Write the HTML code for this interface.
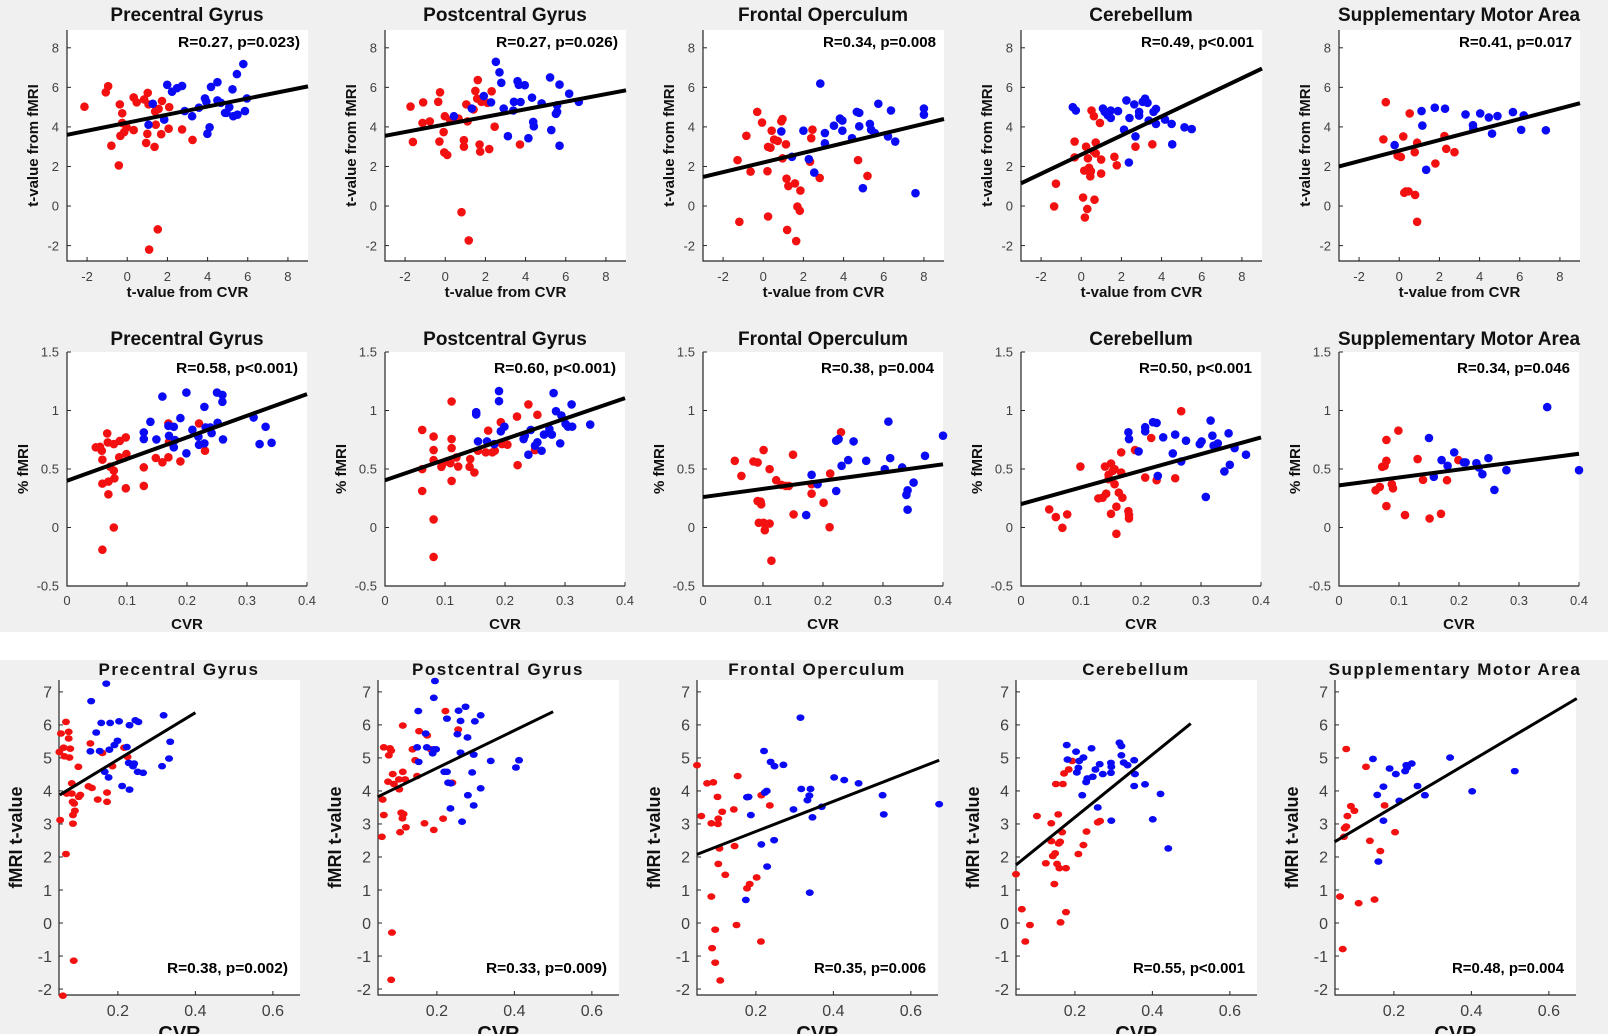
<!DOCTYPE html>
<html><head><meta charset="utf-8"><style>
html,body{margin:0;padding:0;background:#fff}
svg{display:block}
text{font-family:"Liberation Sans",sans-serif}
</style></head><body>
<svg id="fig" xmlns="http://www.w3.org/2000/svg" width="1608" height="1034" viewBox="0 0 1608 1034">
<rect x="0" y="0" width="1608" height="632" fill="#f0f0f0"/>
<rect x="0" y="632" width="1608" height="28" fill="#ffffff"/>
<rect x="0" y="660" width="1608" height="374" fill="#f0f0f0"/>
</svg>
<script>
// ---------- DATA ----------
const titles = ["Precentral Gyrus","Postcentral Gyrus","Frontal Operculum","Cerebellum","Supplementary Motor Area"];
const r1Stats = ["R=0.27, p=0.023)","R=0.27, p=0.026)","R=0.34, p=0.008","R=0.49, p<0.001","R=0.41, p=0.017"];
const r2Stats = ["R=0.58, p<0.001)","R=0.60, p<0.001)","R=0.38, p=0.004","R=0.50, p<0.001","R=0.34, p=0.046"];
const r3Stats = ["R=0.38, p=0.002)","R=0.33, p=0.009)","R=0.35, p=0.006","R=0.55, p<0.001","R=0.48, p=0.004"];
const r1XTicks = [-2,0,2,4,6,8];
const r1YTicks = [-2,0,2,4,6,8];
const r2XTicks = [0,0.1,0.2,0.3,0.4];
const r2YTicks = [-0.5,0,0.5,1,1.5];
const r3XTicks = [0.2,0.4,0.6];
const r3YTicks = [-2,-1,0,1,2,3,4,5,6,7];
// fit lines: [x1,y1,x2,y2]
const r1Lines = [[-3,3.6,9,6.05],[-3,3.55,9,5.85],[-3,1.47,9,4.4],[-3,1.15,9,6.95],[-3,2.0,9,5.2]];
const r2Lines = [[0,0.4,0.4,1.14],[0,0.404,0.4,1.106],[0,0.26,0.4,0.54],[0,0.2,0.4,0.77],[0,0.36,0.4,0.63]];
const r3Lines = [[0.05,3.88,0.4,6.37],[0.047,3.82,0.5,6.4],[0.048,2.08,0.673,4.93],[0.048,1.76,0.499,6.04],[0.047,2.46,0.672,6.8]];

const r1p1Red=[[-2.13,5.02],[-1.07,5.75],[-0.95,6.06],[-0.79,3.05],[-0.42,2.05],[-0.37,5.14],[-0.34,3.55],[-0.25,4.69],[-0.25,4.2],[-0.15,3.74],[-0.03,3.98],[0.32,3.84],[0.32,5.49],[0.47,5.24],[0.84,5.39],[0.94,3.19],[1.0,3.65],[1.02,5.72],[1.06,5.14],[1.09,-2.2],[1.39,4.78],[1.36,2.99],[1.42,4.11],[1.52,-1.18],[1.56,4.91],[1.69,3.63],[1.73,5.31],[2.09,5.0],[2.06,3.91],[2.73,3.87],[3.25,3.34]];
const r1p1Blue=[[1.27,5.17],[1.06,4.11],[1.84,4.37],[1.99,6.13],[2.23,5.78],[2.48,5.96],[2.73,6.07],[2.86,4.8],[3.23,4.54],[3.57,4.97],[3.87,5.44],[3.94,5.27],[3.99,3.65],[4.1,3.98],[4.17,6.02],[4.49,6.26],[4.49,5.34],[4.66,5.22],[4.87,4.71],[4.94,4.71],[5.08,5.0],[5.24,5.9],[5.28,4.54],[5.46,6.67],[5.49,4.62],[5.78,7.18],[5.86,4.8],[5.96,5.44]];
const r1p2Red=[[-1.73,5.03],[-1.61,3.24],[-1.13,4.2],[-1.1,5.24],[-0.77,4.28],[-0.35,5.27],[-0.29,3.26],[-0.26,5.75],[-0.08,3.74],[-0.05,2.71],[-0.02,4.54],[0.1,2.58],[0.25,4.33],[0.66,4.42],[0.81,-0.31],[0.93,3.33],[0.93,3.0],[1.05,5.14],[1.11,4.28],[1.17,-1.74],[1.41,4.88],[1.5,5.82],[1.59,5.43],[1.62,6.37],[1.71,3.11],[1.74,2.75],[1.8,5.27],[2.1,5.22],[2.19,2.88],[2.31,5.8],[2.46,4.01],[3.72,3.11]];
const r1p2Blue=[[0.43,4.54],[1.32,4.93],[1.92,5.56],[2.28,5.24],[2.52,7.29],[2.7,6.76],[2.79,6.23],[2.91,4.93],[3.12,3.53],[3.39,4.83],[3.42,5.27],[3.6,6.31],[3.66,6.13],[3.75,5.26],[3.96,6.11],[4.14,3.43],[4.32,5.48],[4.38,4.25],[4.41,4.03],[4.8,5.19],[5.22,6.5],[5.28,3.84],[5.51,4.66],[5.57,5.09],[5.57,4.76],[5.69,6.14],[5.69,3.05],[6.17,5.68],[6.65,5.27]];
const r1p3Red=[[-1.28,2.32],[-1.19,-0.8],[-0.84,3.55],[-0.63,1.74],[-0.3,4.76],[-0.06,4.22],[0.21,1.76],[0.24,-0.53],[0.24,2.99],[0.36,2.95],[0.42,3.81],[0.54,3.36],[0.72,3.29],[0.9,4.28],[0.96,4.4],[0.96,2.41],[1.13,3.12],[1.16,1.38],[1.19,-1.21],[1.25,1.01],[1.58,1.14],[1.64,-1.77],[1.7,-0.03],[1.82,-0.24],[1.85,0.78],[2.33,2.24],[2.39,3.43],[2.45,3.86],[2.81,1.42],[4.72,2.32],[5.19,1.52]];
const r1p3Blue=[[0.9,3.77],[1.43,2.49],[2.0,3.81],[2.27,2.37],[2.54,1.69],[2.84,6.19],[3.07,3.69],[3.07,3.17],[3.52,4.06],[3.82,4.42],[3.94,4.32],[3.94,3.81],[4.42,3.43],[4.66,4.76],[4.78,4.71],[4.78,4.03],[4.96,0.9],[5.31,4.15],[5.37,3.86],[5.55,3.69],[5.73,5.17],[6.21,3.52],[6.36,4.83],[6.57,3.26],[7.58,0.65],[8.0,4.93],[8.0,4.62]];
const r1p4Red=[[-1.35,-0.02],[-1.26,1.13],[-0.33,3.26],[-0.33,2.46],[0.09,0.43],[0.15,1.79],[0.18,-0.58],[0.24,3.0],[0.3,-0.15],[0.33,2.41],[0.39,1.93],[0.45,1.5],[0.48,1.76],[0.51,4.83],[0.6,2.78],[0.63,4.54],[0.66,0.32],[0.72,2.66],[0.72,3.21],[0.93,4.2],[0.99,1.64],[0.99,2.35],[1.65,2.49],[1.77,2.06],[2.7,3.0],[3.54,3.12]];
const r1p4Blue=[[-0.42,5.0],[-0.27,4.83],[1.08,4.93],[1.17,4.76],[1.32,4.59],[1.47,4.45],[1.47,4.83],[1.83,4.8],[2.13,3.86],[2.25,5.34],[2.37,2.2],[2.4,4.45],[2.64,5.14],[2.7,3.52],[2.88,4.76],[2.88,4.57],[3.06,5.27],[3.18,5.43],[3.3,5.22],[3.36,4.32],[3.6,4.76],[3.72,4.91],[3.72,4.15],[4.17,4.37],[4.5,4.15],[4.53,3.12],[5.14,3.98],[5.5,3.89]];
const r1p5Red=[[-0.79,3.37],[-0.67,5.25],[-0.08,2.55],[0.08,2.48],[0.2,3.52],[0.25,0.67],[0.33,0.74],[0.46,0.74],[0.52,4.68],[0.77,2.72],[0.79,0.56],[0.89,3.2],[0.89,-0.8],[1.8,2.15],[2.25,3.54],[2.34,2.89],[2.75,2.72]];
const r1p5Blue=[[-0.23,3.08],[1.11,4.8],[1.15,4.07],[1.34,1.83],[1.77,4.97],[2.28,4.92],[3.3,4.63],[3.67,4.09],[3.69,3.91],[4.03,4.68],[4.46,4.48],[4.62,3.66],[4.89,4.55],[5.66,4.75],[6.07,3.85],[6.2,4.58],[7.3,3.83]];

const r2p1Red=[[0.048,0.685],[0.055,0.69],[0.058,0.656],[0.059,0.58],[0.059,0.375],[0.059,-0.19],[0.067,0.804],[0.068,0.727],[0.069,0.284],[0.069,0.392],[0.072,0.52],[0.078,0.713],[0.078,0.486],[0.079,0.42],[0.078,0.0],[0.087,0.6],[0.088,0.74],[0.098,0.77],[0.099,0.628],[0.098,0.335],[0.128,0.514],[0.128,0.355],[0.148,0.594],[0.159,0.557],[0.169,0.889],[0.169,0.6],[0.17,0.73],[0.189,0.565],[0.22,0.889],[0.23,0.656]];
const r2p1Blue=[[0.128,0.813],[0.128,0.756],[0.139,0.903],[0.149,0.753],[0.159,1.119],[0.169,0.869],[0.17,0.784],[0.178,0.861],[0.178,0.685],[0.18,0.747],[0.189,0.935],[0.199,1.153],[0.199,0.634],[0.209,0.835],[0.219,0.776],[0.22,0.707],[0.229,1.031],[0.229,0.719],[0.231,0.855],[0.239,0.855],[0.241,0.807],[0.25,1.153],[0.251,0.895],[0.259,1.133],[0.259,1.074],[0.26,0.753],[0.311,0.94],[0.321,0.713],[0.331,0.861],[0.341,0.724]];
const r2p2Red=[[0.062,0.834],[0.062,0.312],[0.062,0.499],[0.081,0.576],[0.081,0.662],[0.081,0.069],[0.081,-0.252],[0.081,0.777],[0.094,0.519],[0.095,0.536],[0.102,0.564],[0.109,0.55],[0.111,1.077],[0.111,0.398],[0.111,0.679],[0.111,0.756],[0.119,0.599],[0.122,0.521],[0.141,0.519],[0.142,0.585],[0.149,0.47],[0.155,0.656],[0.168,0.642],[0.172,0.828],[0.179,0.642],[0.183,0.656],[0.193,0.9],[0.195,0.713],[0.204,0.708],[0.22,0.948],[0.221,0.533],[0.239,1.052],[0.25,0.662],[0.254,0.963]];
const r2p2Blue=[[0.152,0.986],[0.152,0.966],[0.155,0.736],[0.17,0.736],[0.182,0.713],[0.19,1.166],[0.19,1.08],[0.193,0.822],[0.199,0.862],[0.231,0.756],[0.233,0.785],[0.239,0.622],[0.243,0.834],[0.25,0.699],[0.261,0.656],[0.254,0.728],[0.265,0.794],[0.274,0.842],[0.278,0.794],[0.281,1.149],[0.285,0.994],[0.292,0.719],[0.294,0.957],[0.301,0.885],[0.305,0.862],[0.311,1.052],[0.312,0.862],[0.342,0.88]];
const r2p3Red=[[0.053,0.57],[0.064,0.441],[0.084,0.564],[0.091,0.556],[0.091,0.226],[0.093,0.04],[0.096,0.221],[0.097,0.198],[0.101,0.662],[0.101,0.04],[0.103,-0.023],[0.111,0.499],[0.111,0.034],[0.114,-0.284],[0.122,0.404],[0.131,0.364],[0.138,0.355],[0.143,0.355],[0.15,0.622],[0.151,0.112],[0.181,0.289],[0.181,0.37],[0.201,0.212],[0.211,0.003],[0.212,0.461],[0.23,0.814]];
const r2p3Blue=[[0.172,0.106],[0.181,0.45],[0.191,0.37],[0.222,0.742],[0.222,0.312],[0.226,0.756],[0.231,0.527],[0.242,0.576],[0.251,0.736],[0.272,0.57],[0.303,0.499],[0.309,0.905],[0.312,0.593],[0.332,0.513],[0.339,0.278],[0.341,0.318],[0.341,0.152],[0.351,0.384],[0.37,0.613],[0.4,0.785]];
const r2p4Red=[[0.047,0.155],[0.058,0.089],[0.069,-0.003],[0.077,0.112],[0.099,0.521],[0.129,0.249],[0.136,0.255],[0.14,0.521],[0.142,0.289],[0.146,0.413],[0.146,0.45],[0.15,0.547],[0.15,0.117],[0.153,0.484],[0.156,0.499],[0.156,0.37],[0.159,0.178],[0.159,-0.054],[0.163,0.298],[0.167,0.642],[0.167,0.47],[0.169,0.255],[0.179,0.14],[0.18,0.077],[0.18,0.106],[0.19,0.662],[0.207,0.427],[0.217,0.765],[0.226,0.404],[0.257,0.421],[0.267,0.994]];
const r2p4Blue=[[0.179,0.814],[0.18,0.756],[0.196,0.65],[0.207,0.857],[0.207,0.822],[0.22,0.9],[0.226,0.894],[0.228,0.441],[0.237,0.771],[0.253,0.633],[0.257,0.794],[0.267,0.564],[0.275,0.742],[0.298,0.713],[0.301,0.736],[0.308,0.261],[0.316,0.914],[0.319,0.785],[0.321,0.699],[0.328,0.719],[0.339,0.479],[0.346,0.805],[0.348,0.536],[0.356,0.679],[0.375,0.622]];
const r2p5Red=[[0.061,0.318],[0.068,0.347],[0.072,0.519],[0.076,0.527],[0.079,0.748],[0.079,0.57],[0.079,0.183],[0.088,0.37],[0.09,0.335],[0.099,0.828],[0.11,0.106],[0.131,0.585],[0.14,0.407],[0.151,0.077],[0.17,0.117],[0.18,0.404],[0.199,0.576]];
const r2p5Blue=[[0.15,0.765],[0.158,0.433],[0.171,0.576],[0.181,0.527],[0.192,0.642],[0.208,0.556],[0.211,0.556],[0.229,0.55],[0.233,0.513],[0.239,0.456],[0.249,0.593],[0.259,0.321],[0.279,0.49],[0.347,1.029],[0.4,0.49]];

const r3p1Red=[[0.053,5.74],[0.049,5.18],[0.051,3.12],[0.06,5.31],[0.062,5.05],[0.066,6.09],[0.066,2.09],[0.068,3.92],[0.073,5.79],[0.073,5.59],[0.075,5.01],[0.077,5.28],[0.081,4.23],[0.081,3.92],[0.083,3.67],[0.084,3.27],[0.084,3.01],[0.086,-1.14],[0.087,3.62],[0.089,3.4],[0.098,4.73],[0.099,3.82],[0.103,3.88],[0.058,-2.2],[0.124,4.14],[0.129,5.44],[0.133,4.09],[0.148,3.74],[0.16,5.15],[0.172,3.67],[0.172,3.95],[0.186,4.75],[0.216,5.31],[0.225,5.03]];
const r3p1Blue=[[0.129,5.2],[0.131,6.72],[0.144,5.77],[0.153,5.21],[0.157,6.06],[0.17,7.25],[0.166,4.58],[0.176,4.41],[0.178,5.25],[0.18,6.06],[0.191,5.39],[0.199,5.52],[0.203,6.11],[0.211,4.15],[0.223,5.33],[0.23,4.04],[0.23,5.99],[0.228,4.85],[0.239,4.75],[0.242,4.83],[0.245,6.14],[0.251,4.58],[0.253,6.09],[0.265,4.55],[0.314,4.75],[0.318,6.29],[0.332,4.98],[0.335,5.49]];
const r3p2Red=[[0.058,2.61],[0.06,3.74],[0.063,5.32],[0.063,3.27],[0.074,4.28],[0.076,5.08],[0.079,5.29],[0.082,5.22],[0.084,-0.29],[0.082,-1.72],[0.086,4.51],[0.089,4.21],[0.102,4.35],[0.103,4.05],[0.105,2.75],[0.108,3.34],[0.111,3.17],[0.112,4.58],[0.112,5.98],[0.114,3.3],[0.118,4.35],[0.12,2.9],[0.137,5.26],[0.144,4.93],[0.149,4.45],[0.154,5.81],[0.168,3.02],[0.175,5.68],[0.184,5.26],[0.192,2.82],[0.216,3.16],[0.222,6.42],[0.24,4.25],[0.255,5.86]];
const r3p2Blue=[[0.149,5.32],[0.152,6.42],[0.153,4.88],[0.171,5.74],[0.174,5.32],[0.189,5.14],[0.192,5.26],[0.195,7.33],[0.192,6.82],[0.198,5.26],[0.219,4.58],[0.226,4.58],[0.226,6.19],[0.229,4.25],[0.236,4.23],[0.235,3.47],[0.253,5.72],[0.256,6.43],[0.261,6.12],[0.261,5.16],[0.265,3.07],[0.274,6.55],[0.279,5.62],[0.28,3.87],[0.291,4.56],[0.295,5.1],[0.295,3.56],[0.298,6.11],[0.313,4.08],[0.313,6.29],[0.339,4.91],[0.404,4.71],[0.412,4.93]];
const r3p3Red=[[0.048,4.78],[0.059,3.24],[0.074,4.23],[0.085,3.02],[0.085,0.8],[0.087,-0.76],[0.09,4.26],[0.095,-0.2],[0.095,-1.2],[0.101,3.82],[0.102,3.0],[0.103,1.79],[0.103,3.16],[0.106,2.26],[0.108,-1.74],[0.113,3.37],[0.121,1.46],[0.143,3.44],[0.145,2.33],[0.15,-0.06],[0.153,4.45],[0.177,1.05],[0.184,1.18],[0.202,1.38],[0.213,-0.56],[0.214,3.87],[0.236,3.56]];
const r3p3Blue=[[0.174,0.7],[0.177,3.81],[0.181,3.82],[0.187,3.27],[0.214,2.38],[0.221,5.21],[0.223,3.95],[0.228,4.0],[0.229,1.71],[0.238,4.88],[0.247,2.51],[0.248,4.75],[0.271,4.79],[0.297,3.44],[0.315,6.22],[0.317,4.06],[0.333,3.72],[0.338,3.86],[0.341,4.06],[0.346,3.2],[0.37,3.52],[0.402,4.41],[0.428,4.33],[0.465,4.23],[0.527,3.87],[0.53,3.29],[0.673,3.6],[0.339,0.92]];
const r3p4Red=[[0.048,1.48],[0.063,0.42],[0.072,-0.56],[0.084,-0.06],[0.102,3.24],[0.125,1.81],[0.139,3.02],[0.139,2.48],[0.143,2.03],[0.147,1.18],[0.149,2.11],[0.151,4.21],[0.154,1.79],[0.157,3.29],[0.158,2.41],[0.16,1.66],[0.162,2.46],[0.163,0.02],[0.167,2.75],[0.169,4.21],[0.172,4.53],[0.177,1.66],[0.177,0.33],[0.184,4.65],[0.193,4.91],[0.209,2.09],[0.222,2.36],[0.23,2.77],[0.259,3.05],[0.265,3.09]];
const r3p4Blue=[[0.179,5.39],[0.181,4.95],[0.203,5.19],[0.205,4.56],[0.209,4.7],[0.211,4.91],[0.219,3.87],[0.222,5.01],[0.229,4.27],[0.232,4.38],[0.243,5.29],[0.246,4.43],[0.253,4.65],[0.264,4.81],[0.272,4.51],[0.293,4.85],[0.294,4.73],[0.293,4.55],[0.294,3.1],[0.315,5.46],[0.32,5.36],[0.32,5.08],[0.326,4.86],[0.336,4.78],[0.353,4.93],[0.355,4.51],[0.353,4.15],[0.381,4.2],[0.401,3.14],[0.421,3.91],[0.441,2.26],[0.259,3.5]];
const r3p5Red=[[0.061,0.8],[0.068,-0.79],[0.071,2.61],[0.073,2.87],[0.077,2.92],[0.08,3.24],[0.089,3.54],[0.098,3.4],[0.109,0.6],[0.128,4.73],[0.138,2.49],[0.15,0.71],[0.165,2.18],[0.176,3.56],[0.203,2.75],[0.077,5.27]];
const r3p5Blue=[[0.146,4.97],[0.157,3.88],[0.16,1.86],[0.173,4.13],[0.173,3.1],[0.189,4.68],[0.205,4.51],[0.214,3.7],[0.229,4.6],[0.232,4.78],[0.234,4.71],[0.246,4.83],[0.261,4.15],[0.28,3.87],[0.345,5.01],[0.402,3.99],[0.512,4.6]];

const r1Red=[r1p1Red,r1p2Red,r1p3Red,r1p4Red,r1p5Red];
const r1Blue=[r1p1Blue,r1p2Blue,r1p3Blue,r1p4Blue,r1p5Blue];
const r2Red=[r2p1Red,r2p2Red,r2p3Red,r2p4Red,r2p5Red];
const r2Blue=[r2p1Blue,r2p2Blue,r2p3Blue,r2p4Blue,r2p5Blue];
const r3Red=[r3p1Red,r3p2Red,r3p3Red,r3p4Red,r3p5Red];
const r3Blue=[r3p1Blue,r3p2Blue,r3p3Blue,r3p4Blue,r3p5Blue];

// ---------- DRAW ----------
const NS="http://www.w3.org/2000/svg";
const svg=document.getElementById('fig');
function mk(tag,attrs,parent){const e=document.createElementNS(NS,tag);for(const k in attrs)e.setAttribute(k,attrs[k]);(parent||svg).appendChild(e);return e;}
function fmt(v){return String(Math.round(v*10)/10);}

function drawPanel(L){
  const g=mk('g',{});
  
  
  const sx=v=>L.left+(v-L.xd[0])/(L.xd[1]-L.xd[0])*L.w;
  const sy=v=>L.bottom-(v-L.yd[0])/(L.yd[1]-L.yd[0])*(L.bottom-L.top);
  const bg=mk('rect',{x:L.left,y:L.top,width:L.w,height:L.bottom-L.top,fill:'#fff'},g);
  
  
  const ax=mk('path',{d:`M${L.left},${L.top}V${L.bottom}H${L.left+L.w}`,stroke:'#262626','stroke-width':1.2,fill:'none'},g);
  
  
  L.xt.forEach(t=>{
    const x=sx(t);
    const tk=mk('line',{x1:x,x2:x,y1:L.bottom,y2:L.bottom-4,stroke:'#262626','stroke-width':1},g);
    
    
    const tl=mk('text',{x:x,y:L.xtY,'text-anchor':'middle','font-size':L.tfs,fill:'#404040'},g);
    tl.textContent=fmt(t);
    
    
  });
  L.yt.forEach(t=>{
    const y=sy(t);
    const tk=mk('line',{x1:L.left,x2:L.left+4,y1:y,y2:y,stroke:'#262626','stroke-width':1},g);
    
    
    const tl=mk('text',{x:L.left-L.ytGap,y:y+L.tfs*0.36,'text-anchor':'end','font-size':L.tfs,fill:'#404040'},g);
    tl.textContent=fmt(t);
    
    
  });
  const drawPts=(pts,col,nm)=>pts.forEach(p=>{
    const c=mk('ellipse',{cx:sx(p[0]),cy:sy(p[1]),rx:L.rx,ry:L.ry,fill:col},g);
    
    
  });
  drawPts(L.red,'#f21010','red-point');
  drawPts(L.blue,'#0a0af5','blue-point');
  const ln=L.line;
  const fl=mk('line',{x1:sx(ln[0]),y1:sy(ln[1]),x2:sx(ln[2]),y2:sy(ln[3]),stroke:'#000','stroke-width':L.lw},g);
  
  
  const tt=mk('text',{x:L.titleX,y:L.titleY,'text-anchor':'middle','font-size':L.titleFs,'font-weight':'bold',fill:'#111','letter-spacing':L.titleLs},g);
  tt.textContent=L.title;
  
  
  const st=mk('text',{x:L.left+L.statR,y:L.statY,'text-anchor':'end','font-size':L.statFs,'font-weight':'bold',fill:'#000',textLength:L.statW,lengthAdjust:'spacingAndGlyphs'},g);
  st.textContent=L.stat;
  
  
  const xl=mk('text',{x:L.left+L.w/2,y:L.xlY,'text-anchor':'middle','font-size':L.xlFs,'font-weight':'bold',fill:'#111'},g);
  xl.textContent=L.xl;
  
  
  const cy=(L.top+L.bottom)/2;
  const yl=mk('text',{x:0,y:0,'text-anchor':'middle','font-size':L.ylFs,'font-weight':'bold',fill:'#111',transform:`translate(${L.left-L.ylOff},${cy}) rotate(-90)`},g);
  yl.textContent=L.yl;
  
  
}

for(let i=0;i<5;i++){
  const left1=67+318*i;
  drawPanel({name:'row1-panel-'+(i+1),left:left1,w:241,top:30,bottom:261,xd:[-3,9],yd:[-2.78,8.9],
    xt:r1XTicks,yt:r1YTicks,xtY:281,tfs:13,ytGap:8,rx:4.3,ry:4.3,red:r1Red[i],blue:r1Blue[i],line:r1Lines[i],lw:4,
    title:titles[i],titleX:left1+120,titleY:21,titleFs:19,titleLs:0,stat:r1Stats[i],statR:233,statY:47,statFs:15,statW:i<2?122:113,
    xl:'t-value from CVR',xlY:297,xlFs:15,yl:'t-value from fMRI',ylOff:29,ylFs:15});
  drawPanel({name:'row2-panel-'+(i+1),left:left1,w:240,top:352,bottom:586,xd:[0,0.4],yd:[-0.5,1.5],
    xt:r2XTicks,yt:r2YTicks,xtY:605,tfs:13,ytGap:8,rx:4.3,ry:4.3,red:r2Red[i],blue:r2Blue[i],line:r2Lines[i],lw:4,
    title:titles[i],titleX:left1+120,titleY:345,titleFs:19,titleLs:0,stat:r2Stats[i],statR:231,statY:373,statFs:15,statW:i<2?122:113,
    xl:'CVR',xlY:629,xlFs:15,yl:'% fMRI',ylOff:39,ylFs:15});
  const left3=59+319*i;
  drawPanel({name:'row3-panel-'+(i+1),left:left3,w:241,top:680,bottom:995,xd:[0.048,0.67],yd:[-2.18,7.36],
    xt:r3XTicks,yt:r3YTicks,xtY:1016,tfs:16,ytGap:7,rx:4,ry:3.3,red:r3Red[i],blue:r3Blue[i],line:r3Lines[i],lw:3,
    title:titles[i],titleX:left3+120,titleY:675,titleFs:17,titleLs:1.5,stat:r3Stats[i],statR:229,statY:973,statFs:15,statW:i<2?121:112,
    xl:'CVR',xlY:1040,xlFs:20,yl:'fMRI t-value',ylOff:37,ylFs:18});
}
</script>
</body></html>
